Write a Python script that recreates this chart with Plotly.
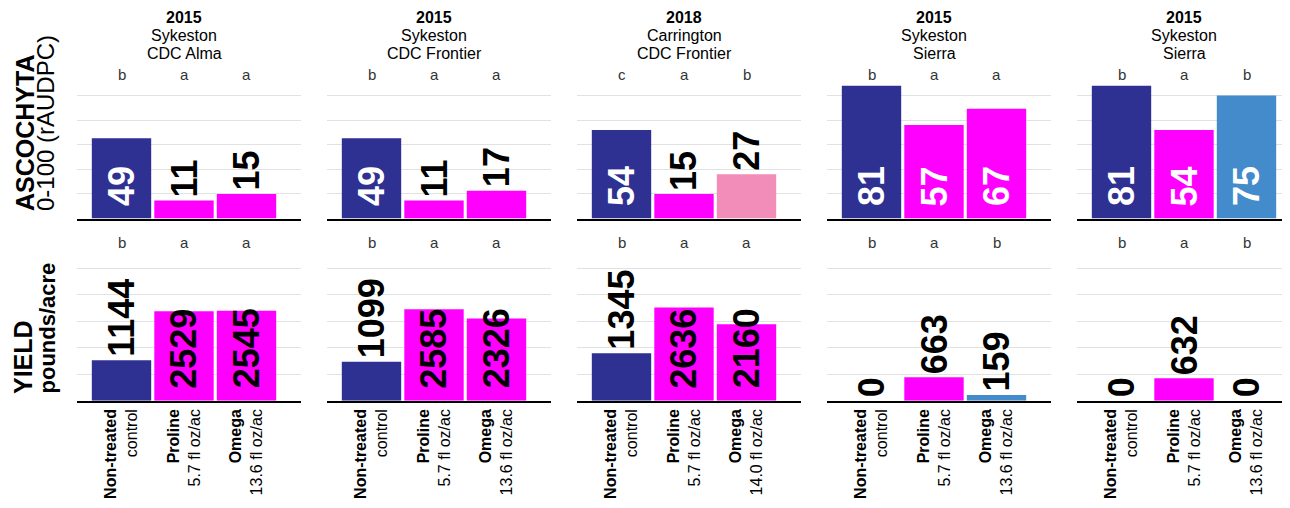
import plotly.graph_objects as go

# panel headers
years = ["2015", "2015", "2018", "2015", "2015"]
locations = ["Sykeston", "Sykeston", "Carrington", "Sykeston", "Sykeston"]
varieties = ["CDC Alma", "CDC Frontier", "CDC Frontier", "Sierra", "Sierra"]

# treatments (x tick labels)
products = ["Non-treated", "Proline", "Omega"]
rates = [
    ["control", "5.7 fl oz/ac", "13.6 fl oz/ac"],
    ["control", "5.7 fl oz/ac", "13.6 fl oz/ac"],
    ["control", "5.7 fl oz/ac", "14.0 fl oz/ac"],
    ["control", "5.7 fl oz/ac", "13.6 fl oz/ac"],
    ["control", "5.7 fl oz/ac", "13.6 fl oz/ac"],
]

# ascochyta severity, 0-100 rAUDPC
ascochyta = [
    [49, 11, 15],
    [49, 11, 17],
    [54, 15, 27],
    [81, 57, 67],
    [81, 54, 75],
]
ascochyta_letters = [
    ["b", "a", "a"],
    ["b", "a", "a"],
    ["c", "a", "b"],
    ["b", "a", "a"],
    ["b", "a", "b"],
]

# yield, pounds/acre
yield_lbs = [
    [1144, 2529, 2545],
    [1099, 2585, 2326],
    [1345, 2636, 2160],
    [0, 663, 159],
    [0, 632, 0],
]
yield_letters = [
    ["b", "a", "a"],
    ["b", "a", "a"],
    ["b", "a", "a"],
    ["b", "a", "b"],
    ["b", "a", "b"],
]

FONT = "Liberation Sans, Arial, sans-serif"
NAVY = "#2e3192"
MAGENTA = "#ff00ff"
PINK = "#f28cb9"
BLUE = "#438bca"

asco_colors = [
    [NAVY, MAGENTA, MAGENTA],
    [NAVY, MAGENTA, MAGENTA],
    [NAVY, MAGENTA, PINK],
    [NAVY, MAGENTA, MAGENTA],
    [NAVY, MAGENTA, BLUE],
]
yield_colors = [
    [NAVY, MAGENTA, MAGENTA],
    [NAVY, MAGENTA, MAGENTA],
    [NAVY, MAGENTA, MAGENTA],
    [NAVY, MAGENTA, BLUE],
    [NAVY, MAGENTA, BLUE],
]

# the page body adds an 8px margin, so the figure is shrunk and shifted by it
OFF = 8
W, H = 1290 - OFF, 508 - OFF


def px_x(px):
    return (px - OFF) / W


def px_y(px):
    # pixel from top of the window -> paper fraction
    return 1 - (px - OFF) / H


rows = [
    dict(values=ascochyta, letters=ascochyta_letters, colors=asco_colors,
         ymax=90, dtick=15, dom=(218.5, 71), letter_px=74, inside_color="white"),
    dict(values=yield_lbs, letters=yield_letters, colors=yield_colors,
         ymax=4200, dtick=750, dom=(400.7, 252.2), letter_px=242, inside_color="black"),
]

fig = go.Figure()
annotations = []
layout = {}

for r, row in enumerate(rows):
    for i in range(5):
        k = r * 5 + i + 1
        xname = "x" if k == 1 else f"x{k}"
        yname = "y" if k == 1 else f"y{k}"
        left = 77 + 250 * i
        right = min(301 + 250 * i, 1290)
        vals = row["values"][i]

        fig.add_trace(
            go.Bar(
                x=[0, 1, 2],
                y=vals,
                marker=dict(color=row["colors"][i], line=dict(width=0)),
                width=0.95,
                xaxis=xname,
                yaxis=yname,
                hoverinfo="y",
            )
        )

        layout[f"xaxis{k}"] = dict(
            domain=[px_x(left), min(px_x(right), 1)],
            range=[-0.712, (right - left) / 62.5 - 0.712],
            anchor=yname,
            showgrid=False,
            zeroline=False,
            showline=True,
            linecolor="black",
            linewidth=2,
            ticks="",
            tickvals=[0, 1, 2],
            ticktext=[f"<b>{p}</b><br>{rt}" for p, rt in zip(products, rates[i])],
            tickangle=-90,
            tickfont=dict(family=FONT, size=16, color="black"),
            showticklabels=(r == 1),
            fixedrange=True,
        )
        layout[f"yaxis{k}"] = dict(
            domain=[px_y(row["dom"][0]), px_y(row["dom"][1])],
            range=[0, row["ymax"]],
            anchor=xname,
            showgrid=True,
            gridcolor="#e2e2e2",
            gridwidth=1,
            dtick=row["dtick"],
            zeroline=False,
            showticklabels=False,
            ticks="",
            fixedrange=True,
        )

        # value labels on the bars
        for j, v in enumerate(vals):
            inside = v > 0.45 * row["ymax"]
            annotations.append(dict(
                x=j, y=0 if inside else v, xref=xname, yref=yname,
                text=f"<b>{v}</b>", textangle=-90, showarrow=False,
                xanchor="center", yanchor="bottom",
                yshift=10 if inside else 1,
                font=dict(family=FONT, size=36,
                          color=row["inside_color"] if inside else "black"),
            ))

        # significance letters
        for j, let in enumerate(row["letters"][i]):
            annotations.append(dict(
                x=j, y=px_y(row["letter_px"]), xref=xname, yref="paper",
                text=let, showarrow=False, xanchor="center", yanchor="middle",
                font=dict(family=FONT, size=15, color="#333333"),
            ))

        # panel header
        if r == 0:
            for txt, ypx in [(f"<b>{years[i]}</b>", 17.5), (locations[i], 35.5), (varieties[i], 53.5)]:
                annotations.append(dict(
                    x=1, y=px_y(ypx), xref=xname, yref="paper", text=txt,
                    showarrow=False, xanchor="center", yanchor="middle",
                    borderpad=0,
                    font=dict(family=FONT, size=16, color="black"),
                ))

# row titles
for txt, xpx, ypx, size in [
    ("<b>ASCOCHYTA</b>", 25, 213, 25),
    ("0-100 (rAUDPC)", 46, 213, 24),
    ("<b>YIELD</b>", 23, 396, 25),
    ("<b>pounds/acre</b>", 47, 396, 22),
]:
    annotations.append(dict(
        x=px_x(xpx), y=px_y(ypx), xref="paper", yref="paper", text=txt,
        textangle=-90, showarrow=False, xanchor="center", yanchor="bottom",
        font=dict(family=FONT, size=size, color="black"),
    ))

fig.update_layout(
    width=W,
    height=H,
    margin=dict(l=0, r=0, t=0, b=0),
    paper_bgcolor="white",
    plot_bgcolor="white",
    showlegend=False,
    font=dict(family=FONT),
    annotations=annotations,
    **layout,
)

fig.write_html("out.html")
